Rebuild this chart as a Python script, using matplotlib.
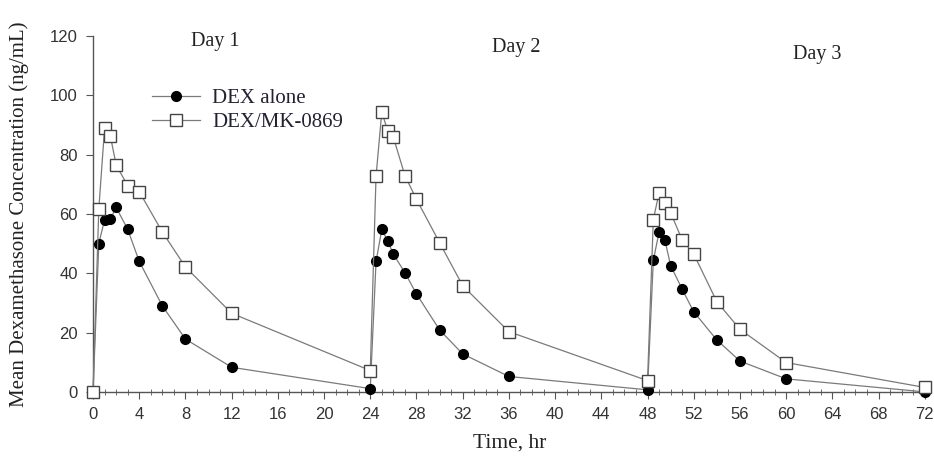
import matplotlib
matplotlib.use("Agg")
import matplotlib.pyplot as plt
from matplotlib.ticker import MultipleLocator
from matplotlib import font_manager

# time points (hr) and mean concentrations (ng/mL)
tiempo = [0, 0.5, 1, 1.5, 2, 3, 4, 6, 8, 12,
          24, 24.5, 25, 25.5, 26, 27, 28, 30, 32, 36,
          48, 48.5, 49, 49.5, 50, 51, 52, 54, 56, 60, 72]

dex_solo = [0, 50, 58, 58.2, 62.2, 54.8, 44, 29, 17.8, 8.3,
            1.1, 44, 54.8, 50.9, 46.4, 40.2, 33, 20.9, 12.8, 5.2,
            0.7, 44.3, 53.9, 51.2, 42.6, 34.6, 27, 17.5, 10.4, 4.4, 0]

dex_mk = [0, 61.6, 88.9, 86.3, 76.5, 69.5, 67.5, 53.9, 42.1, 26.5,
          7.2, 72.8, 94.4, 88, 85.8, 72.9, 64.9, 50.3, 35.8, 20.3,
          3.8, 58, 67.2, 63.6, 60.4, 51.2, 46.5, 30.4, 21.1, 9.9, 1.5]

dias = ["Day 1", "Day 2", "Day 3"]
dias_pos = [(10.6, 118), (36.6, 116), (62.7, 113.6)]

nomes = [f.name for f in font_manager.fontManager.ttflist]
fonte_ticks = "Liberation Sans Narrow" if "Liberation Sans Narrow" in nomes else "Liberation Sans"
serif = "Liberation Serif"

fig = plt.figure(figsize=(9.34, 4.66), dpi=100)
ax = fig.add_axes([0.0996, 0.159, 0.893, 0.764])

ax.plot(tiempo, dex_solo, color="#7a7a7a", lw=0.9, marker="o", ms=7,
        mfc="black", mec="black", label="DEX alone", zorder=3, clip_on=False)
ax.plot(tiempo, dex_mk, color="#7a7a7a", lw=0.9, marker="s", ms=8,
        mfc="white", mec="#444444", mew=1.0, label="DEX/MK-0869", zorder=4,
        clip_on=False)

for nome, (xd, yd) in zip(dias, dias_pos):
    ax.text(xd, yd, nome, fontsize=14.5, family=serif, color="#222222",
            ha="center", va="center")

ax.set_xlim(0, 72.2)
ax.set_ylim(0, 120)
ax.xaxis.set_major_locator(MultipleLocator(4))
ax.xaxis.set_minor_locator(MultipleLocator(1))
ax.yaxis.set_major_locator(MultipleLocator(20))

ax.spines["top"].set_visible(False)
ax.spines["right"].set_visible(False)
for s in ("left", "bottom"):
    ax.spines[s].set_color("#555555")
    ax.spines[s].set_linewidth(1.0)

ax.tick_params(axis="both", which="major", direction="out", length=5,
               color="#555555", labelsize=12, labelcolor="#333333", pad=6)
ax.tick_params(axis="x", which="minor", direction="inout", length=4, color="#555555")
for lab in ax.get_xticklabels() + ax.get_yticklabels():
    lab.set_fontfamily(fonte_ticks)

ax.set_xlabel("Time, hr", fontsize=15.5, family=serif, color="#222222", labelpad=8)
ax.set_ylabel("Mean Dexamethasone Concentration (ng/mL)", fontsize=15,
              family=serif, color="#222222", labelpad=15)

leg = ax.legend(loc="upper left", bbox_to_anchor=(0.048, 0.904), frameon=False,
                prop={"family": serif, "size": 15}, handlelength=2.3,
                handletextpad=0.6, labelspacing=0.2, labelcolor="#222233")

fig.savefig("out.png", dpi=100)
